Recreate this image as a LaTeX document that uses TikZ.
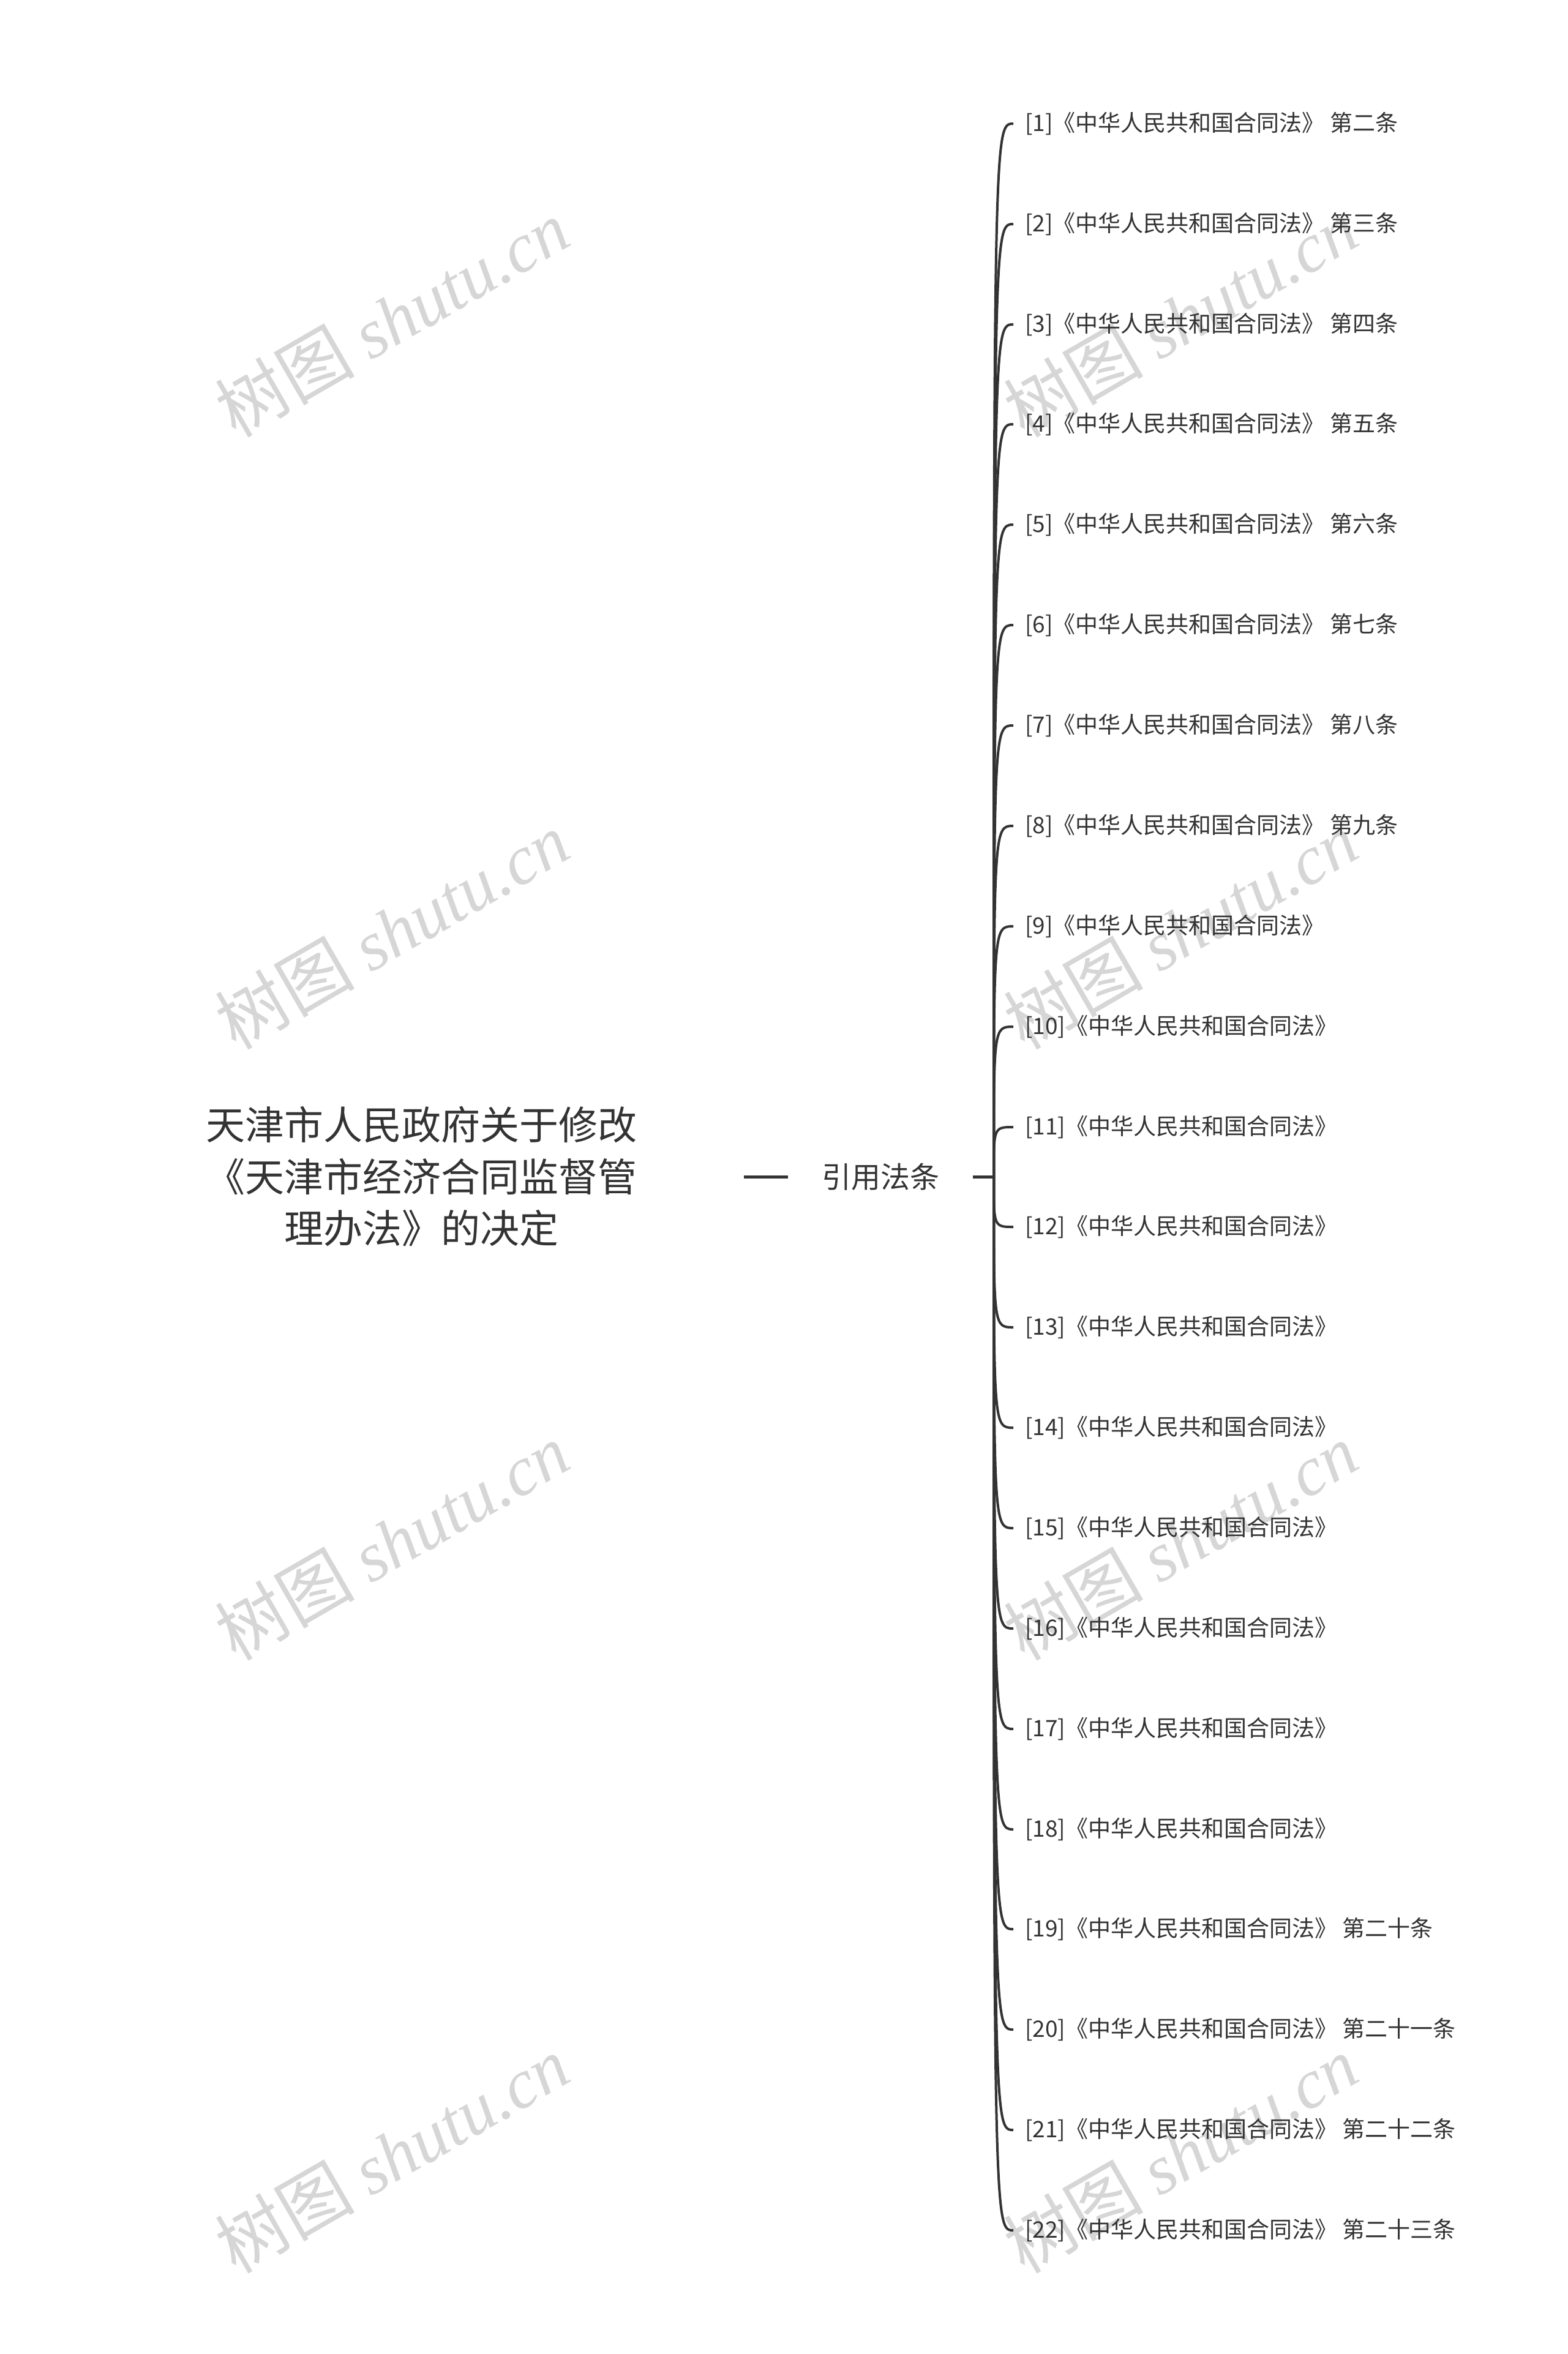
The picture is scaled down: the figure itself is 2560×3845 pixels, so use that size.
\documentclass[tikz,border=0pt]{standalone}
\usepackage{fontspec}
\setmainfont{Noto Sans CJK SC}
\newfontfamily\wmserif{Liberation Serif}
\definecolor{ink}{HTML}{333333}
\definecolor{wmgray}{RGB}{214,214,214}
\begin{document}
\begin{tikzpicture}[x=1pt,y=-1pt,
  leaf/.style={anchor=west, inner xsep=19pt, inner ysep=0pt, text=ink,
    font=\fontsize{37}{45}\selectfont},
  conn/.style={draw=ink, line width=5pt},
  wmark/.style={text=wmgray, rotate=30, font=\fontsize{114}{120}\selectfont},
]
\fill[white] (0,0) rectangle (2560,3845);
\useasboundingbox (0,0) rectangle (2560,3845);
% watermarks
\foreach \wx in {640,1928}{
  \foreach \wy in {520,1520,2518,3519}{
    \node[wmark] at (\wx,\wy) {树图 {\wmserif\itshape shutu.cn}};
  }
}
% root and sub
\node[text=ink, align=center, minimum width=1054pt, inner sep=0pt,
  font=\fontsize{64}{84.5}\selectfont] (root) at (688,1922)
  {天津市人民政府关于修改\\《天津市经济合同监督管\\理办法》的决定};
\node[text=ink, minimum width=302pt, inner sep=0pt,
  font=\fontsize{48}{56}\selectfont] (sub) at (1438,1922) {引用法条};
\coordinate (hub) at (1623,1922);
\draw[conn] (root.east) -- (sub.west);
\draw[conn] (sub.east) -- (hub);
% leaves
\node[leaf] (l1)  at (1655,202)  {[1]《中华人民共和国合同法》 第二条};
\node[leaf] (l2)  at (1655,366)  {[2]《中华人民共和国合同法》 第三条};
\node[leaf] (l3)  at (1655,530)  {[3]《中华人民共和国合同法》 第四条};
\node[leaf] (l4)  at (1655,693)  {[4]《中华人民共和国合同法》 第五条};
\node[leaf] (l5)  at (1655,857)  {[5]《中华人民共和国合同法》 第六条};
\node[leaf] (l6)  at (1655,1021) {[6]《中华人民共和国合同法》 第七条};
\node[leaf] (l7)  at (1655,1185) {[7]《中华人民共和国合同法》 第八条};
\node[leaf] (l8)  at (1655,1349) {[8]《中华人民共和国合同法》 第九条};
\node[leaf] (l9)  at (1655,1513) {[9]《中华人民共和国合同法》};
\node[leaf] (l10) at (1655,1677) {[10]《中华人民共和国合同法》};
\node[leaf] (l11) at (1655,1841) {[11]《中华人民共和国合同法》};
\node[leaf] (l12) at (1655,2004) {[12]《中华人民共和国合同法》};
\node[leaf] (l13) at (1655,2168) {[13]《中华人民共和国合同法》};
\node[leaf] (l14) at (1655,2332) {[14]《中华人民共和国合同法》};
\node[leaf] (l15) at (1655,2496) {[15]《中华人民共和国合同法》};
\node[leaf] (l16) at (1655,2660) {[16]《中华人民共和国合同法》};
\node[leaf] (l17) at (1655,2824) {[17]《中华人民共和国合同法》};
\node[leaf] (l18) at (1655,2988) {[18]《中华人民共和国合同法》};
\node[leaf] (l19) at (1655,3151) {[19]《中华人民共和国合同法》 第二十条};
\node[leaf] (l20) at (1655,3315) {[20]《中华人民共和国合同法》 第二十一条};
\node[leaf] (l21) at (1655,3479) {[21]《中华人民共和国合同法》 第二十二条};
\node[leaf] (l22) at (1655,3643) {[22]《中华人民共和国合同法》 第二十三条};
\foreach \k in {1,...,22}{
  \draw[draw=ink, line width=4pt] (hub) .. controls (hub |- l\k.west) .. (l\k.west);
}
\end{tikzpicture}
\end{document}
